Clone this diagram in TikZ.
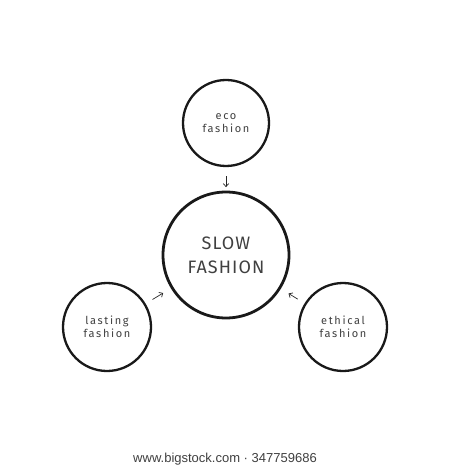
\documentclass[tikz,border=0pt]{standalone}
\usepackage{fontspec}
\usetikzlibrary{arrows.meta}
\setmainfont{Fira Sans}
\newfontfamily\thinfont[LetterSpace=15]{Fira Sans}
\newfontfamily\titlefont[LetterSpace=6]{Fira Sans}
\newfontfamily\creditfont{Liberation Sans}
\begin{document}
\begin{tikzpicture}[x=1pt,y=-1pt,
  ring/.style={circle,draw=black!90,line width=2.3pt,inner sep=0pt,align=center,text=black!75},
  small/.style={ring,minimum size=88pt,font=\thinfont\fontsize{11}{12.5}\selectfont},
  tip/.style={-{Straight Barb[length=3pt,width=5.5pt]},line width=0.7pt,draw=black!85}]
\useasboundingbox (0,0) rectangle (450,470);
\fill[white] (0,0) rectangle (450,470);

\node[ring,minimum size=126pt,line width=2.8pt,font=\titlefont\fontsize{18}{24}\selectfont] (slow) at (226,255) {SLOW\\FASHION};
\node[small,minimum size=86pt] (eco) at (226,123) {eco\\fashion};
\node[small] (lasting) at (107,327) {lasting\\fashion};
\node[small] (ethical) at (343,327) {ethical\\fashion};

\draw[tip,shorten <=9pt,shorten >=3.5pt] (eco) -- (slow);
\draw[tip,shorten <=8pt,shorten >=9pt] (lasting) -- (slow);
\draw[tip,shorten <=8pt,shorten >=9pt] (ethical) -- (slow);

\node[font=\creditfont\fontsize{13}{15}\selectfont,text=black!75] (credit) at (225,459) {www.bigstock.com · 347759686};
\end{tikzpicture}
\end{document}
